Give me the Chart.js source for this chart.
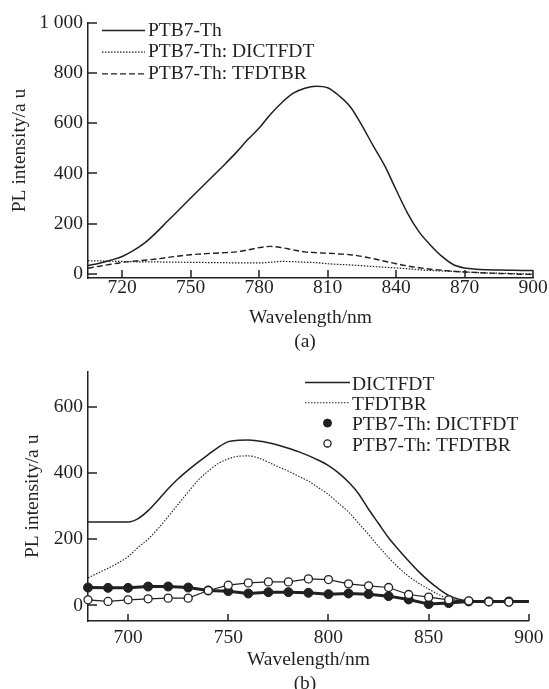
<!DOCTYPE html>
<html>
<head>
<meta charset="utf-8">
<title>PL spectra</title>
<script src="https://cdn.jsdelivr.net/npm/chart.js@4.4.0/dist/chart.umd.min.js"></script>
<style>
  html, body { margin: 0; padding: 0; background: #fff; }
  body { width: 549px; height: 689px; position: relative; overflow: hidden;
         font-family: "Liberation Serif", "Times New Roman", serif; color: #231f20; }
  .box { position: absolute; left: 0; width: 549px; }
  #boxA { top: 0; height: 355px; }
  #boxB { top: 355px; height: 334px; }
  .cap { position: absolute; left: 255px; width: 100px; text-align: center;
         font-size: 19.5px; line-height: 20px; }
</style>
</head>
<body>
<div class="box" id="boxA"><canvas id="chartA"></canvas></div>
<div class="box" id="boxB"><canvas id="chartB"></canvas></div>
<div class="cap" style="top:331px">(a)</div>
<div class="cap" style="top:673px">(b)</div>

<script>
const INK = '#231f20';

// ---- panel (a) ----
const WL_A = [705, 710, 715, 720, 725, 730, 735, 740, 745, 750,
              755, 760, 765, 770, 775, 780, 785, 790, 795, 800,
              805, 810, 815, 820, 825, 830, 835, 840, 845, 850,
              855, 860, 865, 870, 875, 880, 885, 890, 895, 900];
const PTB7 = [33, 42, 54, 69, 93, 124, 165, 211, 256, 302,
              347, 392, 437, 484, 535, 581, 636, 683, 720, 740,
              748, 742, 710, 665, 592, 510, 431, 335, 242, 168,
              115, 70, 37, 23, 18, 16, 15, 14, 13, 13];
const PTB7_DICTFDT = [52, 51, 50, 49, 48, 47, 47, 46, 46, 45,
                      45, 44, 44, 43, 43, 43, 46, 49, 48, 46,
                      44, 40, 37, 35, 32, 29, 26, 23, 20, 16,
                      13, 11, 9, 7, 5, 3, 2, 1, 0, -1];
const PTB7_TFDTBR = [22, 30, 38, 45, 50, 54, 59, 65, 71, 76,
                     79, 82, 84, 87, 95, 104, 109, 104, 95, 87,
                     84, 82, 79, 76, 69, 60, 50, 40, 31, 24,
                     18, 14, 10, 7, 5, 3, 1, 0, -2, -3];
const XTICKS_A = [720, 750, 780, 810, 840, 870, 900];
const YTICKS_A = [0, 200, 400, 600, 800, 1000];
const YLABELS_A = ['0', '200', '400', '600', '800', '1 000'];

// ---- panel (b) ----
const WL_B = [680, 685, 690, 695, 700, 705, 710, 715, 720, 725,
              730, 735, 740, 745, 750, 755, 760, 765, 770, 775,
              780, 785, 790, 795, 800, 805, 810, 815, 820, 825,
              830, 835, 840, 845, 850, 855, 860, 865, 870, 875,
              880, 885, 890, 895, 900];
const DICTFDT = [252, 252, 252, 252, 252, 262, 286, 318, 352, 382,
                 408, 432, 455, 477, 494, 498, 499, 496, 491, 483,
                 474, 464, 452, 438, 422, 400, 372, 337, 290, 247,
                 204, 168, 134, 102, 74, 50, 30, 19, 14, 13,
                 13, 13, 13, 13, 13];
const TFDTBR = [83, 98, 112, 128, 147, 175, 200, 232, 268, 305,
                342, 378, 405, 428, 442, 450, 451, 445, 432, 418,
                405, 390, 375, 355, 335, 308, 282, 248, 214, 178,
                144, 114, 88, 67, 49, 33, 20, 15, 13];
const WL_MARK = [680, 690, 700, 710, 720, 730, 740, 750, 760, 770,
                 780, 790, 800, 810, 820, 830, 840, 850, 860, 870,
                 880, 890, 900];
const MIX_DICTFDT = [54, 53, 53, 57, 57, 54, 45, 43, 36, 40,
                     40, 38, 34, 36, 34, 28, 18, 4, 7, 12,
                     12, 12, 12];
const MIX_TFDTBR = [17, 12, 17, 20, 22, 22, 45, 61, 68, 71,
                    71, 80, 78, 65, 59, 54, 33, 25, 17, 14,
                    11, 10];
const XTICKS_B = [700, 750, 800, 850, 900];
const YTICKS_B = [0, 200, 400, 600];
const YLABELS_B = ['0', '200', '400', '600'];

function pts(xs, ys) {
    return ys.map((v, i) => ({ x: xs[i], y: v }));
}

Chart.defaults.font.family = '"Liberation Serif", "Times New Roman", serif';
Chart.defaults.font.size = 19.5;
Chart.defaults.color = INK;

// tick marks drawn inward from the axes
const inwardTicks = {
    id: 'inwardTicks',
    beforeDatasetsDraw(chart, args, opts) {
        const { ctx, chartArea: a, scales: { x, y } } = chart;
        ctx.save();
        ctx.strokeStyle = INK;
        ctx.lineWidth = 1.5;
        ctx.beginPath();
        x.ticks.forEach(t => {
            const px = Math.round(x.getPixelForValue(t.value));
            ctx.moveTo(px, a.bottom);
            ctx.lineTo(px, a.bottom - opts.x);
        });
        y.ticks.forEach(t => {
            const py = Math.round(y.getPixelForValue(t.value));
            ctx.moveTo(a.left, py);
            ctx.lineTo(a.left + opts.y, py);
        });
        ctx.stroke();
        ctx.restore();
    }
};

// legend placed inside the plot, one row per dataset
const sampleLegend = {
    id: 'sampleLegend',
    afterDraw(chart, args, o) {
        const ctx = chart.ctx;
        ctx.save();
        ctx.font = '19.5px "Liberation Serif", "Times New Roman", serif';
        ctx.textBaseline = 'middle';
        chart.data.datasets.forEach((ds, i) => {
            const y = o.y + i * o.row;
            const x0 = o.x, x1 = o.x + o.len;
            ctx.strokeStyle = INK;
            if (ds.legendMarker) {
                ctx.beginPath();
                ctx.arc((x0 + x1) / 2, y - o.lift, ds.legendMarker, 0, Math.PI * 2);
                ctx.fillStyle = ds.pointBackgroundColor;
                ctx.fill();
                ctx.lineWidth = ds.pointBorderWidth || 1;
                ctx.stroke();
            } else {
                ctx.setLineDash(ds.borderDash || []);
                ctx.lineWidth = ds.borderWidth;
                ctx.beginPath();
                ctx.moveTo(x0, y - o.lift);
                ctx.lineTo(x1, y - o.lift);
                ctx.stroke();
                ctx.setLineDash([]);
            }
            ctx.fillStyle = INK;
            ctx.fillText(ds.label, x1 + o.gap, y);
        });
        ctx.restore();
    }
};

function axes(cfg) {
    return {
        x: {
            type: 'linear', min: cfg.xmin, max: cfg.xmax,
            afterBuildTicks: s => { s.ticks = cfg.xticks.map(v => ({ value: v })); },
            afterFit: s => { s.height = cfg.xh; },
            grid: { display: false, drawTicks: false },
            border: { display: true, color: INK, width: 1.5 },
            ticks: { color: INK, padding: cfg.xpad, maxRotation: 0, autoSkip: false },
            title: { display: true, text: 'Wavelength/nm', color: INK,
                     padding: { top: 0, bottom: cfg.xtitlePad } }
        },
        y: {
            type: 'linear', min: cfg.ymin, max: cfg.ymax,
            afterBuildTicks: s => { s.ticks = cfg.yticks.map(v => ({ value: v })); },
            afterFit: s => { s.width = 88; },
            grid: { display: false, drawTicks: false },
            border: { display: true, color: INK, width: 1.5 },
            ticks: { color: INK, padding: 5, autoSkip: false,
                     callback: v => cfg.ylabels[cfg.yticks.indexOf(v)] },
            title: { display: true, text: 'PL intensity/a u', color: INK,
                     padding: { top: cfg.ytitlePad, bottom: 0 } }
        }
    };
}

const common = {
    responsive: true,
    maintainAspectRatio: false,
    animation: false,
    events: [],
    elements: { point: { radius: 0, hoverRadius: 0 } }
};

new Chart(document.getElementById('chartA'), {
    type: 'line',
    data: {
        datasets: [
            { label: 'PTB7-Th', data: pts(WL_A, PTB7), borderColor: INK, borderWidth: 1.5,
              cubicInterpolationMode: 'monotone', pointRadius: 0, clip: false },
            { label: 'PTB7-Th: DICTFDT', data: pts(WL_A, PTB7_DICTFDT), borderColor: INK, borderWidth: 1.2,
              borderDash: [1.5, 1.5], cubicInterpolationMode: 'monotone', pointRadius: 0, clip: false },
            { label: 'PTB7-Th: TFDTBR', data: pts(WL_A, PTB7_TFDTBR), borderColor: INK, borderWidth: 1.4,
              borderDash: [6, 3], cubicInterpolationMode: 'monotone', pointRadius: 0, clip: false }
        ]
    },
    options: {
        ...common,
        layout: { padding: { left: 0, right: 16, top: 23, bottom: 0 } },
        scales: axes({ xmin: 705, xmax: 900, xticks: XTICKS_A, xh: 77, xpad: -1.5, xtitlePad: 25,
                       ymin: -17, ymax: 1000, yticks: YTICKS_A, ylabels: YLABELS_A, ytitlePad: 8 }),
        plugins: {
            legend: { display: false },
            tooltip: { enabled: false },
            inwardTicks: { x: 8, y: 9 },
            sampleLegend: { x: 102, y: 30.5, row: 21.7, len: 43, gap: 3, lift: 0 }
        }
    },
    plugins: [inwardTicks, sampleLegend]
});

new Chart(document.getElementById('chartB'), {
    type: 'line',
    data: {
        datasets: [
            { label: 'DICTFDT', data: pts(WL_B, DICTFDT), borderColor: INK, borderWidth: 1.5,
              cubicInterpolationMode: 'monotone', pointRadius: 0, clip: false, order: 3 },
            { label: 'TFDTBR', data: pts(WL_B, TFDTBR), borderColor: INK, borderWidth: 1.1,
              borderDash: [1.5, 1.5], cubicInterpolationMode: 'monotone', pointRadius: 0, clip: false, order: 2 },
            { label: 'PTB7-Th: DICTFDT', data: pts(WL_MARK, MIX_DICTFDT), borderColor: INK, borderWidth: 3,
              tension: 0, pointRadius: c => (c.dataIndex < MIX_DICTFDT.length - 1 ? 4.5 : 0),
              pointBackgroundColor: INK, pointBorderColor: INK, pointBorderWidth: 1,
              legendMarker: 4, clip: false, order: 1 },
            { label: 'PTB7-Th: TFDTBR', data: pts(WL_MARK, MIX_TFDTBR), borderColor: INK, borderWidth: 1.2,
              tension: 0, pointRadius: 4, pointBackgroundColor: '#fff', pointBorderColor: INK,
              pointBorderWidth: 1.3, legendMarker: 3.6, clip: false, order: 0 }
        ]
    },
    options: {
        ...common,
        layout: { padding: { left: 0, right: 16, top: 10, bottom: 0 } },
        scales: axes({ xmin: 680, xmax: 900, xticks: XTICKS_B, xh: 68, xpad: 5.5, xtitlePad: 17,
                       ymin: -47, ymax: 705, yticks: YTICKS_B, ylabels: YLABELS_B, ytitlePad: 21.5 }),
        plugins: {
            legend: { display: false },
            tooltip: { enabled: false },
            inwardTicks: { x: 7, y: 9 },
            sampleLegend: { x: 305, y: 29.5, row: 20.3, len: 45, gap: 2, lift: 2 }
        }
    },
    plugins: [inwardTicks, sampleLegend]
});
</script>
</body>
</html>
